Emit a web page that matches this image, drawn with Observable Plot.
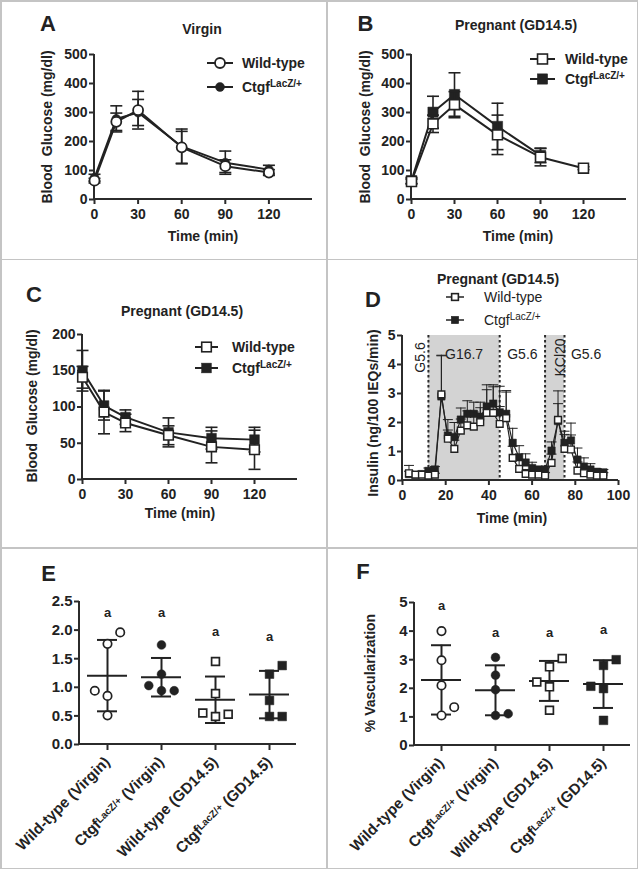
<!DOCTYPE html>
<html><head><meta charset="utf-8">
<script src="https://cdn.jsdelivr.net/npm/d3@7"></script>
<script src="https://cdn.jsdelivr.net/npm/@observablehq/plot@0.6"></script>
<style>
body{margin:0;background:#fff;}
#fig{position:relative;width:638px;height:869px;overflow:hidden;font-family:"Liberation Sans",Arial,sans-serif;color:#222;background:#fff;}
.abs{position:absolute;white-space:nowrap;line-height:1.15;}
.hl{position:absolute;background:#c4c4c4;}
sup{font-size:10px;vertical-align:5px;line-height:0;}
</style></head><body><div id="fig"></div>
<script>
// ---------------- DATA ----------------
// A: GTT virgin
const gttTime = [0, 15, 30, 60, 90, 120];
const virginWT = [65, 268, 308, 180, 115, 93];
const virginWTerr = [8, 30, 65, 55, 22, 10];
const virginKO = [75, 278, 300, 183, 127, 103];
const virginKOerr = [12, 45, 45, 60, 40, 15];
// B: GTT pregnant
const pregWT = [62, 261, 327, 223, 146, 108];
const pregWTerr = [8, 30, 45, 68, 30, 5];
const pregKOtime = [0, 15, 30, 60, 90];
const pregKO = [65, 301, 362, 252, 152];
const pregKOerr = [10, 55, 75, 80, 25];
// C: ITT pregnant
const ittWT = [141, 93, 78, 61, 45, 41];
const ittWTerr = [15, 30, 12, 13, 22, 27];
const ittKO = [150, 102, 86, 65, 57, 55];
const ittKOerr = [28, 20, 10, 20, 15, 17];
// D: islet perifusion
const perifTime = [3, 6, 9, 12, 15, 18, 21, 24, 27, 30, 33, 36, 39, 42, 45, 48, 51, 54, 57, 60, 63, 66, 69, 72, 75, 78, 81, 84, 87, 90, 93];
const perifWT = [0.25, 0.2, 0.2, 0.17, 0.2, 2.97, 1.44, 1.09, 1.72, 1.9, 1.86, 2.01, 2.33, 2.33, 1.95, 2.15, 0.78, 0.4, 0.23, 0.2, 0.2, 0.17, 0.61, 2.09, 1.09, 1.07, 0.34, 0.25, 0.2, 0.17, 0.17];
const perifWTerr = [0.27, 0.05, 0.05, 0.05, 0.05, 1.35, 0.3, 0.3, 0.4, 0.5, 0.5, 0.5, 0.8, 0.9, 0.6, 0.9, 0.4, 0.3, 0.15, 0.1, 0.1, 0.1, 0.3, 1.0, 0.5, 0.5, 0.3, 0.2, 0.1, 0.1, 0.1];
const perifKO = [0.22, 0.2, 0.22, 0.33, 0.38, 2.9, 1.55, 1.5, 2.1, 2.3, 2.3, 2.2, 2.55, 2.65, 2.35, 2.3, 1.3, 0.8, 0.62, 0.43, 0.38, 0.38, 1.03, 2.05, 1.3, 1.38, 0.72, 0.48, 0.38, 0.3, 0.28];
const perifKOerr = [0.1, 0.1, 0.1, 0.1, 0.1, 1.4, 0.55, 0.5, 0.4, 0.45, 0.4, 0.5, 0.75, 0.65, 0.9, 0.8, 0.5, 0.4, 0.3, 0.2, 0.1, 0.1, 0.3, 0.6, 0.4, 0.6, 0.4, 0.3, 0.2, 0.1, 0.1];
const phaseStart = [0, 12, 45, 66, 75];
const phaseEnd = [12, 45, 66, 75, 95];
const phaseLabel = ["G5.6", "G16.7", "G5.6", "KCl20", "G5.6"];
// E, F: groups
const groupKeys = ["WTV", "KOV", "WTP", "KOP"];
const groupLabels = ["Wild-type (Virgin)", "Ctgf^LacZ/+ (Virgin)", "Wild-type (GD14.5)", "Ctgf^LacZ/+ (GD14.5)"];
const eValues = [[1.96, 1.76, 0.94, 0.85, 0.51], [1.74, 1.23, 1.03, 0.94, 0.94], [1.45, 0.89, 0.55, 0.49, 0.53], [1.38, 1.23, 0.77, 0.49, 0.49]];
const eSlots = [[1, 0, -1, 0, 0], [0, 0, -1, 0, 1], [0, 0, -1, 0, 1], [1, 0, 0, 0, 1]];
const eSigY = [2.31, 2.31, 1.97, 1.88];
const fValues = [[4.0, 2.98, 2.1, 1.34, 1.05], [3.08, 2.46, 1.95, 1.05, 1.11], [3.04, 2.75, 2.22, 2.05, 1.23], [3.0, 2.8, 2.07, 1.99, 0.88]];
const fSlots = [[0, 0, 0, 1, 0], [0, 0, 0, 0, 1], [1, 0, -1, 0, 0], [1, 0, -1, 0, 0]];
const fSigY = [4.9, 3.94, 3.94, 4.03];

// ---------------- HELPERS ----------------
const fig = document.getElementById("fig");
const INK = "#222";
const AX = "#2b2b2b";
const FONT = '"Liberation Sans", Arial, sans-serif';
const capSym = {draw(ctx, size) { const r = Math.sqrt(size / Math.PI); ctx.moveTo(-r, 0); ctx.lineTo(r, 0); }};

function axisLines(...args) {
  const dims = args.find(a => a && typeof a === "object" && "marginLeft" in a && "width" in a);
  const {width: w, height: h, marginLeft: l, marginRight: r, marginTop: t, marginBottom: b} = dims;
  const p = document.createElementNS("http://www.w3.org/2000/svg", "path");
  p.setAttribute("d", `M${l},${t}V${h - b}H${w - r}`);
  p.setAttribute("fill", "none"); p.setAttribute("stroke", AX); p.setAttribute("stroke-width", 2);
  return p;
}

function text(x, y, html, {size = 14, weight = "bold", rotate = 0, anchor = "middle"} = {}) {
  const d = document.createElement("div");
  d.className = "abs";
  d.innerHTML = html;
  d.style.fontSize = size + "px";
  d.style.fontWeight = weight;
  d.style.left = x + "px"; d.style.top = y + "px";
  const tx = anchor === "middle" ? "-50%" : anchor === "end" ? "-100%" : "0";
  d.style.transform = `translate(${tx},-50%)` + (rotate ? ` rotate(${rotate}deg)` : "");
  fig.appendChild(d);
}

function legendRow(x1, x2, y, sym, filled, r, textX, html, weight = "bold", lw = 2) {
  const w = x2 - x1, h = 24;
  const cx = w / 2 + 2;
  let m;
  if (sym === "circle") m = `<circle cx="${cx}" cy="${h/2}" r="${r}" fill="${filled ? INK : "#fff"}" stroke="${INK}" stroke-width="${filled ? 0.5 : 1.8}"/>`;
  else { const s = r * 1.772; m = `<rect x="${cx - s/2}" y="${h/2 - s/2}" width="${s}" height="${s}" fill="${filled ? INK : "#fff"}" stroke="${INK}" stroke-width="${filled ? 0.5 : 1.6}"/>`; }
  const d = document.createElement("div");
  d.style.position = "absolute"; d.style.left = (x1 - 2) + "px"; d.style.top = (y - h / 2) + "px";
  d.innerHTML = `<svg width="${w + 4}" height="${h}"><line x1="2" x2="${w + 2}" y1="${h/2}" y2="${h/2}" stroke="${INK}" stroke-width="${lw}"/>${m}</svg>`;
  fig.appendChild(d);
  text(textX, y, html, {anchor: "start", weight});
}

function mount(svg, left, top) {
  svg.style.position = "absolute"; svg.style.left = left + "px"; svg.style.top = top + "px";
  fig.appendChild(svg);
}

const style = {fontFamily: FONT, fontSize: "14px", fontWeight: "bold", color: INK, background: "transparent", overflow: "visible"};

function rows(times, vals, errs) { return vals.map((v, i) => ({t: times[i], v, e: errs[i]})); }

function seriesMarks(data, {symbol, filled, r, sw = 1.8, capR = 6, barW = 1.6, lineW = 2, upOnly = false}) {
  const lo = upOnly ? (d => d.v) : (d => d.v - d.e);
  const hi = d => d.v + d.e;
  const m = [
    Plot.ruleX(data, {x: "t", y1: lo, y2: hi, stroke: INK, strokeWidth: barW}),
    Plot.dot(data, {x: "t", y: hi, symbol: capSym, r: capR, stroke: INK, fill: "none", strokeWidth: barW})
  ];
  if (!upOnly) m.push(Plot.dot(data, {x: "t", y: lo, symbol: capSym, r: capR, stroke: INK, fill: "none", strokeWidth: barW}));
  m.push(Plot.line(data, {x: "t", y: "v", stroke: INK, strokeWidth: lineW}));
  m.push(Plot.dot(data, {x: "t", y: "v", symbol, r, fill: filled ? INK : "#fff", stroke: INK, strokeWidth: filled ? 0.5 : sw}));
  return m;
}

const fmtInt = d3.format("d");
function axes(xTicks, yTicks, yFmt = fmtInt, xPad = 5) {
  return [
    axisLines,
    Plot.axisX({ticks: xTicks, tickSize: 5, tickPadding: xPad, stroke: AX, strokeWidth: 2, label: null, tickFormat: fmtInt}),
    Plot.axisY({ticks: yTicks, tickSize: 5, tickPadding: 2, stroke: AX, strokeWidth: 2, label: null, tickFormat: yFmt})
  ];
}

// ---------------- PANEL BORDERS ----------------
[[0, 0, 638, 1.5], [0, 867.5, 638, 1.5], [0, 0, 1.5, 869], [636.5, 0, 1.5, 869], [0, 258.5, 638, 1.5], [0, 547, 638, 1.5], [326, 0, 2, 869]].forEach(([l, t, w, h]) => {
  const d = document.createElement("div"); d.className = "hl";
  Object.assign(d.style, {left: l + "px", top: t + "px", width: w + "px", height: h + "px"});
  fig.appendChild(d);
});

// ---------------- PANEL A ----------------
mount(Plot.plot({
  width: 327, height: 259, marginLeft: 94, marginRight: 15, marginTop: 54, marginBottom: 60, style,
  x: {domain: [0, 150]}, y: {domain: [0, 500]},
  marks: [
    ...axes([0, 30, 60, 90, 120], [0, 100, 200, 300, 400, 500]),
    ...seriesMarks(rows(gttTime, virginKO, virginKOerr), {symbol: "circle", filled: true, r: 4.5}),
    ...seriesMarks(rows(gttTime, virginWT, virginWTerr), {symbol: "circle", filled: false, r: 5})
  ]
}), 0, 0);
text(48, 24, "A", {size: 22});
text(202, 28.5, "Virgin");
text(47, 127, "Blood&nbsp;&nbsp;Glucose (mg/dl)", {rotate: -90});
text(203, 236, "Time (min)");
legendRow(207, 233, 63, "circle", false, 5, 242, "Wild-type");
legendRow(207, 233, 87, "circle", true, 4.5, 242, "Ctgf<sup>LacZ/+</sup>");

// ---------------- PANEL B ----------------
mount(Plot.plot({
  width: 311, height: 259, marginLeft: 84, marginRight: 12, marginTop: 54, marginBottom: 60, style,
  x: {domain: [0, 150]}, y: {domain: [0, 500]},
  marks: [
    ...axes([0, 30, 60, 90, 120], [0, 100, 200, 300, 400, 500]),
    ...seriesMarks(rows(pregKOtime, pregKO, pregKOerr), {symbol: "square", filled: true, r: 5.8}),
    ...seriesMarks(rows(gttTime, pregWT, pregWTerr), {symbol: "square", filled: false, r: 5.6, sw: 1.6})
  ]
}), 327, 0);
text(365.5, 24, "B", {size: 22});
text(516, 24.5, "Pregnant (GD14.5)");
text(364.7, 127, "Blood&nbsp;&nbsp;Glucose (mg/dl)", {rotate: -90});
text(518, 236, "Time (min)");
legendRow(530, 555, 59, "square", false, 5.6, 565, "Wild-type");
legendRow(530, 555, 79, "square", true, 5.8, 565, "Ctgf<sup>LacZ/+</sup>");

// ---------------- PANEL C ----------------
mount(Plot.plot({
  width: 327, height: 288, marginLeft: 82, marginRight: 30, marginTop: 75, marginBottom: 68, style,
  x: {domain: [0, 150]}, y: {domain: [0, 200]},
  marks: [
    ...axes([0, 30, 60, 90, 120], [0, 50, 100, 150, 200]),
    ...seriesMarks(rows(gttTime, ittKO, ittKOerr), {symbol: "square", filled: true, r: 5.5}),
    ...seriesMarks(rows(gttTime, ittWT, ittWTerr), {symbol: "square", filled: false, r: 5.4, sw: 1.6})
  ]
}), 0, 259);
text(34, 295, "C", {size: 22});
text(182, 311, "Pregnant (GD14.5)");
text(31.7, 406, "Blood&nbsp;&nbsp;Glucose (mg/dl)", {rotate: -90});
text(180, 513, "Time (min)");
legendRow(195, 218, 347, "square", false, 5.4, 232, "Wild-type");
legendRow(195, 218, 368, "square", true, 5.5, 232, "Ctgf<sup>LacZ/+</sup>");

// ---------------- PANEL D ----------------
const phases = phaseStart.map((s, i) => ({s, e: phaseEnd[i], label: phaseLabel[i], mid: (s + phaseEnd[i]) / 2, narrow: phaseEnd[i] - s < 15}));
const stim = phases.filter(p => p.label !== "G5.6");
const bounds = stim.flatMap(p => [p.s, p.e]);
mount(Plot.plot({
  width: 311, height: 288, marginLeft: 75, marginRight: 20, marginTop: 76, marginBottom: 67, style,
  x: {domain: [0, 100]}, y: {domain: [0, 5]},
  marks: [
    Plot.rect(stim, {x1: "s", x2: "e", fill: "#d3d3d3"}),
    Plot.ruleX(bounds, {stroke: AX, strokeWidth: 2, strokeDasharray: "2.5,2.5"}),
    ...axes([0, 20, 40, 60, 80, 100], [0, 1, 2, 3, 4, 5]),
    Plot.text(phases.filter(p => !p.narrow), {x: "mid", text: "label", frameAnchor: "top", dy: 14, fontWeight: "normal", fontSize: 14, fill: INK}),
    Plot.text(phases.filter(p => p.narrow), {x: "mid", text: "label", frameAnchor: "top", dy: 22, rotate: -90, fontWeight: "normal", fontSize: 14, fill: INK}),
    ...seriesMarks(rows(perifTime, perifKO, perifKOerr), {symbol: "square", filled: true, r: 4.2, capR: 5, barW: 1, lineW: 1.2, upOnly: true}),
    ...seriesMarks(rows(perifTime, perifWT, perifWTerr), {symbol: "square", filled: false, r: 3.8, sw: 1.4, capR: 5, barW: 1, lineW: 1.2, upOnly: true})
  ]
}), 327, 259);
text(373, 300, "D", {size: 22});
text(498, 278.5, "Pregnant (GD14.5)");
text(373, 413, "Insulin (ng/100 IEQs/min)", {rotate: -90});
text(512, 518, "Time (min)");
legendRow(446, 464, 297, "square", false, 3.8, 484, "Wild-type", "normal", 1.5);
legendRow(446, 464, 320, "square", true, 4.2, 484, "Ctgf<sup>LacZ/+</sup>", "normal", 1.5);

// ---------------- PANELS E, F ----------------
function supFix(svg) {
  svg.querySelectorAll("text").forEach(t => {
    const s = t.textContent;
    const m = s.match(/^(.*?)\^(\S+)(.*)$/);
    if (m) t.innerHTML = `${m[1]}<tspan dy="-3" font-size="0.66em">${m[2]}</tspan><tspan dy="3">${m[3]}</tspan>`;
  });
  return svg;
}
function groupPanel(values, slots, sigY, yDomain, yTicks, yFmt, dims) {
  const pts = values.flatMap((vals, g) => vals.map((v, i) => ({g: groupKeys[g], gi: g, v, slot: slots[g][i]})));
  const stats = groupKeys.map((k, g) => {
    const m = d3.mean(values[g]), sd = d3.deviation(values[g]);
    return {g: k, mean: m, lo: m - sd, hi: m + sd};
  });
  const sig = groupKeys.map((k, g) => ({g: k, y: sigY[g]}));
  const symFor = gi => (gi < 2 ? "circle" : "square");
  const dotMarks = [];
  [0, 1, 2, 3].forEach(gi => {
    [-1, 0, 1].forEach(s => {
      const sub = pts.filter(p => p.gi === gi && p.slot === s);
      if (!sub.length) return;
      const filled = gi % 2 === 1;
      dotMarks.push(Plot.dot(sub, {x: "g", y: "v", dx: s * 12.7, symbol: symFor(gi), r: gi < 2 ? (filled ? 4.4 : 4.2) : (filled ? 4.9 : 4.4),
        fill: filled ? INK : "#fff", stroke: INK, strokeWidth: filled ? 0.5 : 1.7}));
    });
  });
  const svg = Plot.plot({
    ...dims, style: {...style, fontSize: "15px"},
    x: {type: "band", domain: groupKeys, padding: 0}, y: {domain: yDomain},
    marks: [
      axisLines,
      Plot.axisY({ticks: yTicks, tickSize: 5, tickPadding: 2, stroke: AX, strokeWidth: 2, label: null, tickFormat: yFmt}),
      Plot.axisX({tickRotate: -45, tickSize: 6, tickPadding: 9, stroke: AX, strokeWidth: 2, label: null, fontSize: 15.2,
        tickFormat: k => groupLabels[groupKeys.indexOf(k)]}),
      Plot.ruleX(stats, {x: "g", y1: "lo", y2: "hi", stroke: INK, strokeWidth: 2}),
      Plot.tickY(stats, {x: "g", y: "lo", insetLeft: 17, insetRight: 17, stroke: INK, strokeWidth: 2}),
      Plot.tickY(stats, {x: "g", y: "hi", insetLeft: 17, insetRight: 17, stroke: INK, strokeWidth: 2}),
      Plot.tickY(stats, {x: "g", y: "mean", insetLeft: 7, insetRight: 7, stroke: INK, strokeWidth: 2}),
      ...dotMarks,
      Plot.text(sig, {x: "g", y: "y", text: () => "a", fontSize: 13, fontWeight: "bold", fill: INK})
    ]
  });
  return supFix(svg);
}
mount(groupPanel(eValues, eSlots, eSigY, [0, 2.5], [0, 0.5, 1, 1.5, 2, 2.5], d3.format(".1f"),
  {width: 327, height: 321, marginLeft: 79, marginRight: 31, marginTop: 53, marginBottom: 125}), 0, 548);
text(48.5, 574, "E", {size: 22});

mount(groupPanel(fValues, fSlots, fSigY, [0, 5], [0, 1, 2, 3, 4, 5], d3.format("d"),
  {width: 311, height: 321, marginLeft: 87, marginRight: 8, marginTop: 54, marginBottom: 124}), 327, 548);
text(363, 571.5, "F", {size: 22});
text(369.7, 673, "% Vascularization", {rotate: -90});
</script></body></html>
